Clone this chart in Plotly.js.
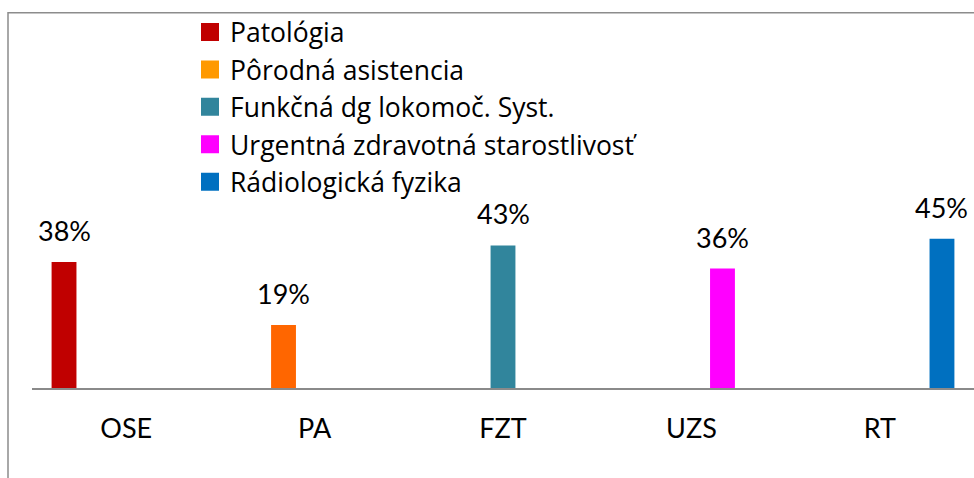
<!DOCTYPE html>
<html>
<head>
<meta charset="utf-8">
<script src="https://cdn.plot.ly/plotly-3.0.1.min.js"></script>
<style>
  html, body { margin: 0; padding: 0; background: #ffffff; }
  #chart { width: 974px; height: 478px; }
</style>
</head>
<body>
<div id="chart"></div>
<script>
// ---- data ----
const categories = ["OSE", "PA", "FZT", "UZS", "RT"];
const seriesNames = [
  "Patológia",
  "Pôrodná asistencia",
  "Funkčná dg lokomoč. Syst.",
  "Urgentná zdravotná starostlivosť",
  "Rádiologická fyzika"
];
const values = [0.38, 0.19, 0.43, 0.36, 0.45];
const barColors = ["#C00000", "#FF6600", "#31859C", "#FF00FF", "#0070C0"];
const legendColors = ["#C00000", "#FF9900", "#31859C", "#FF00FF", "#0070C0"];

// ---- layout constants ----
const FONT = "Lato, 'Open Sans', sans-serif";
const LEGEND_FONT = "'Open Sans', Lato, sans-serif";
const BARGAP = 0.175;
const GROUPGAP = 0.2;
const nSeries = seriesNames.length;
const slot = (1 - BARGAP) / nSeries;

// each series has a value only in its own category
const traces = seriesNames.map((name, i) => ({
  type: "bar",
  name: name,
  x: categories,
  y: categories.map((c, k) => (k === i ? values[i] : null)),
  marker: { color: barColors[i] },
  legendgroup: "g" + i,
  hoverinfo: "x+y+name"
}));

const annotations = values.map((v, i) => ({
  x: i + (i - (nSeries - 1) / 2) * slot,
  y: v,
  xref: "x",
  yref: "y",
  text: Math.round(v * 100) + "%",
  showarrow: false,
  yanchor: "bottom",
  yshift: 13,
  font: { family: FONT, size: 27, color: "#000000" }
}));

const L = 32, R = 0, T = 189.4, B = 90;
const plotH = 478 - T - B;
const plotW = 974 - L - R;
const yMax = 0.6;
const px2paperX = px => (px - L) / plotW;
const px2paperY = py => (478 - B - py) / plotH;

const layout = {
  width: 974,
  height: 478,
  margin: { l: L, r: R, t: T, b: B, pad: 0 },
  paper_bgcolor: "#ffffff",
  plot_bgcolor: "#ffffff",
  barmode: "group",
  bargap: BARGAP,
  bargroupgap: GROUPGAP,
  font: { family: FONT, color: "#000000" },
  showlegend: true,
  legend: {
    x: px2paperX(190),
    y: px2paperY(9),
    xanchor: "left",
    yanchor: "top",
    traceorder: "grouped",
    tracegroupgap: 0,
    bgcolor: "rgba(0,0,0,0)",
    font: { family: LEGEND_FONT, size: 26.5, color: "#000000" }
  },
  xaxis: {
    type: "category",
    categoryorder: "array",
    categoryarray: categories,
    range: [-0.5, categories.length - 0.5],
    showline: true,
    linecolor: "#8a8a8a",
    linewidth: 2,
    showgrid: false,
    zeroline: false,
    ticks: "",
    ticklabelstandoff: 16,
    tickfont: { family: FONT, size: 27, color: "#000000" },
    fixedrange: true
  },
  yaxis: {
    range: [0, yMax],
    visible: false,
    showgrid: false,
    zeroline: false,
    fixedrange: true
  },
  annotations: annotations,
  shapes: [{
    type: "rect",
    xref: "paper",
    yref: "paper",
    x0: px2paperX(8),
    x1: px2paperX(1100),
    y0: px2paperY(13.5),
    y1: px2paperY(700),
    line: { color: "#8c8c8c", width: 1.5 },
    fillcolor: "rgba(0,0,0,0)",
    layer: "below"
  }]
};

function styleLegendIcons() {
  const groups = document.querySelectorAll("#chart g.legend g.traces");
  groups.forEach((g, i) => {
    const paths = g.querySelectorAll("g.legendpoints path");
    paths.forEach(p => {
      p.setAttribute("d", "M9,9H-9V-9H9Z");
      p.style.fill = legendColors[i];
      p.style.stroke = "none";
    });
  });
}

Plotly.newPlot("chart", traces, layout, { displayModeBar: false, staticPlot: true })
  .then(styleLegendIcons);
</script>
</body>
</html>
